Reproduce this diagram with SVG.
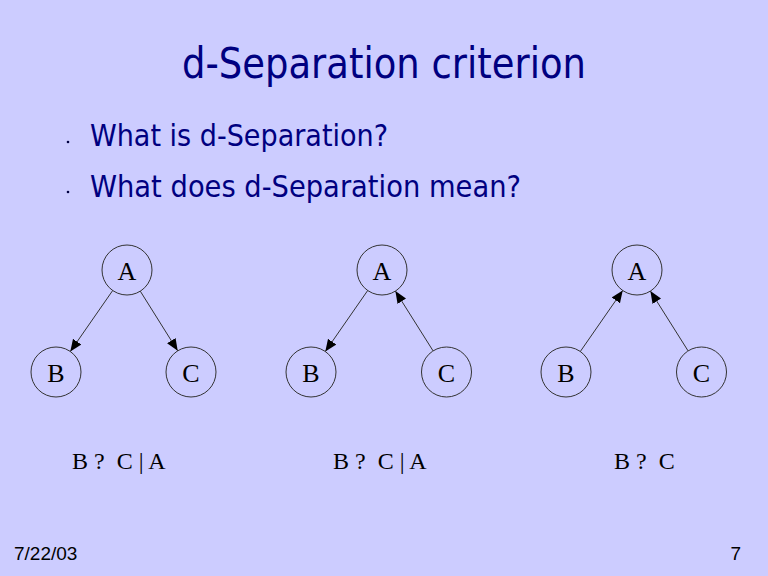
<svg xmlns="http://www.w3.org/2000/svg" width="768" height="576" viewBox="0 0 768 576">
<defs>
<style>
.title{font-family:"DejaVu Sans","Noto Sans",sans-serif;font-size:43px;fill:#000080}
.bul{font-family:"DejaVu Sans","Noto Sans",sans-serif;font-size:30px;fill:#000080}
.node circle{fill:none;stroke:#333;stroke-width:1}
.node text,.lbl{font-family:"Liberation Serif","Times New Roman",serif;fill:#000}
.node text{text-anchor:middle;font-size:26px}
.lbl{font-size:24px}
.edge{stroke:#333;stroke-width:1;fill:none;marker-end:url(#arr)}
.foot{font-family:"Liberation Sans",Arial,sans-serif;font-size:19px;fill:#000}
</style>
<marker id="arr" markerUnits="userSpaceOnUse" markerWidth="13" markerHeight="11" refX="12" refY="5" orient="auto" viewBox="0 0 13 11">
<path d="M0,0 L12,5 L0,10 z" fill="#000"/>
</marker>
</defs>
<rect width="768" height="576" fill="#CCCCFF"/>
<text class="title" x="182" y="78" textLength="404" lengthAdjust="spacingAndGlyphs">d-Separation criterion</text>
<circle cx="68" cy="142" r="1.3" fill="#000040"/>
<circle cx="68" cy="192" r="1.3" fill="#000040"/>
<text class="bul" x="90" y="146" textLength="298" lengthAdjust="spacingAndGlyphs">What is d-Separation?</text>
<text class="bul" x="90" y="196.5" textLength="431" lengthAdjust="spacingAndGlyphs">What does d-Separation mean?</text>
<g id="connectors">
<line class="edge" x1="112.7" y1="290.5" x2="70.3" y2="351.5"/>
<line class="edge" x1="140.3" y1="291.2" x2="177.7" y2="350.8"/>
<line class="edge" x1="367.7" y1="290.5" x2="325.3" y2="351.5"/>
<line class="edge" x1="433.1" y1="350.9" x2="395.4" y2="291.1"/>
<line class="edge" x1="580.3" y1="351.5" x2="622.7" y2="290.5"/>
<line class="edge" x1="688.1" y1="350.9" x2="650.4" y2="291.1"/>
</g>
<g id="g1A" class="node"><circle cx="127" cy="270" r="25"/><text x="127" y="279.5">A</text></g>
<g id="g1B" class="node"><circle cx="56" cy="372" r="25"/><text x="56" y="381.5">B</text></g>
<g id="g1C" class="node"><circle cx="191" cy="372" r="25"/><text x="191" y="381.5">C</text></g>
<g id="g2A" class="node"><circle cx="382" cy="270" r="25"/><text x="382" y="279.5">A</text></g>
<g id="g2B" class="node"><circle cx="311" cy="372" r="25"/><text x="311" y="381.5">B</text></g>
<g id="g2C" class="node"><circle cx="446.5" cy="372" r="25"/><text x="446.5" y="381.5">C</text></g>
<g id="g3A" class="node"><circle cx="637" cy="270" r="25"/><text x="637" y="279.5">A</text></g>
<g id="g3B" class="node"><circle cx="566" cy="372" r="25"/><text x="566" y="381.5">B</text></g>
<g id="g3C" class="node"><circle cx="701.5" cy="372" r="25"/><text x="701.5" y="381.5">C</text></g>
<text class="lbl" x="72" y="469" xml:space="preserve">B ?  C | A</text>
<text class="lbl" x="333" y="469" xml:space="preserve">B ?  C | A</text>
<text class="lbl" x="614" y="469" xml:space="preserve">B ?  C</text>
<text class="foot" x="14" y="560">7/22/03</text>
<text class="foot" x="741" y="560" text-anchor="end">7</text>
</svg>
